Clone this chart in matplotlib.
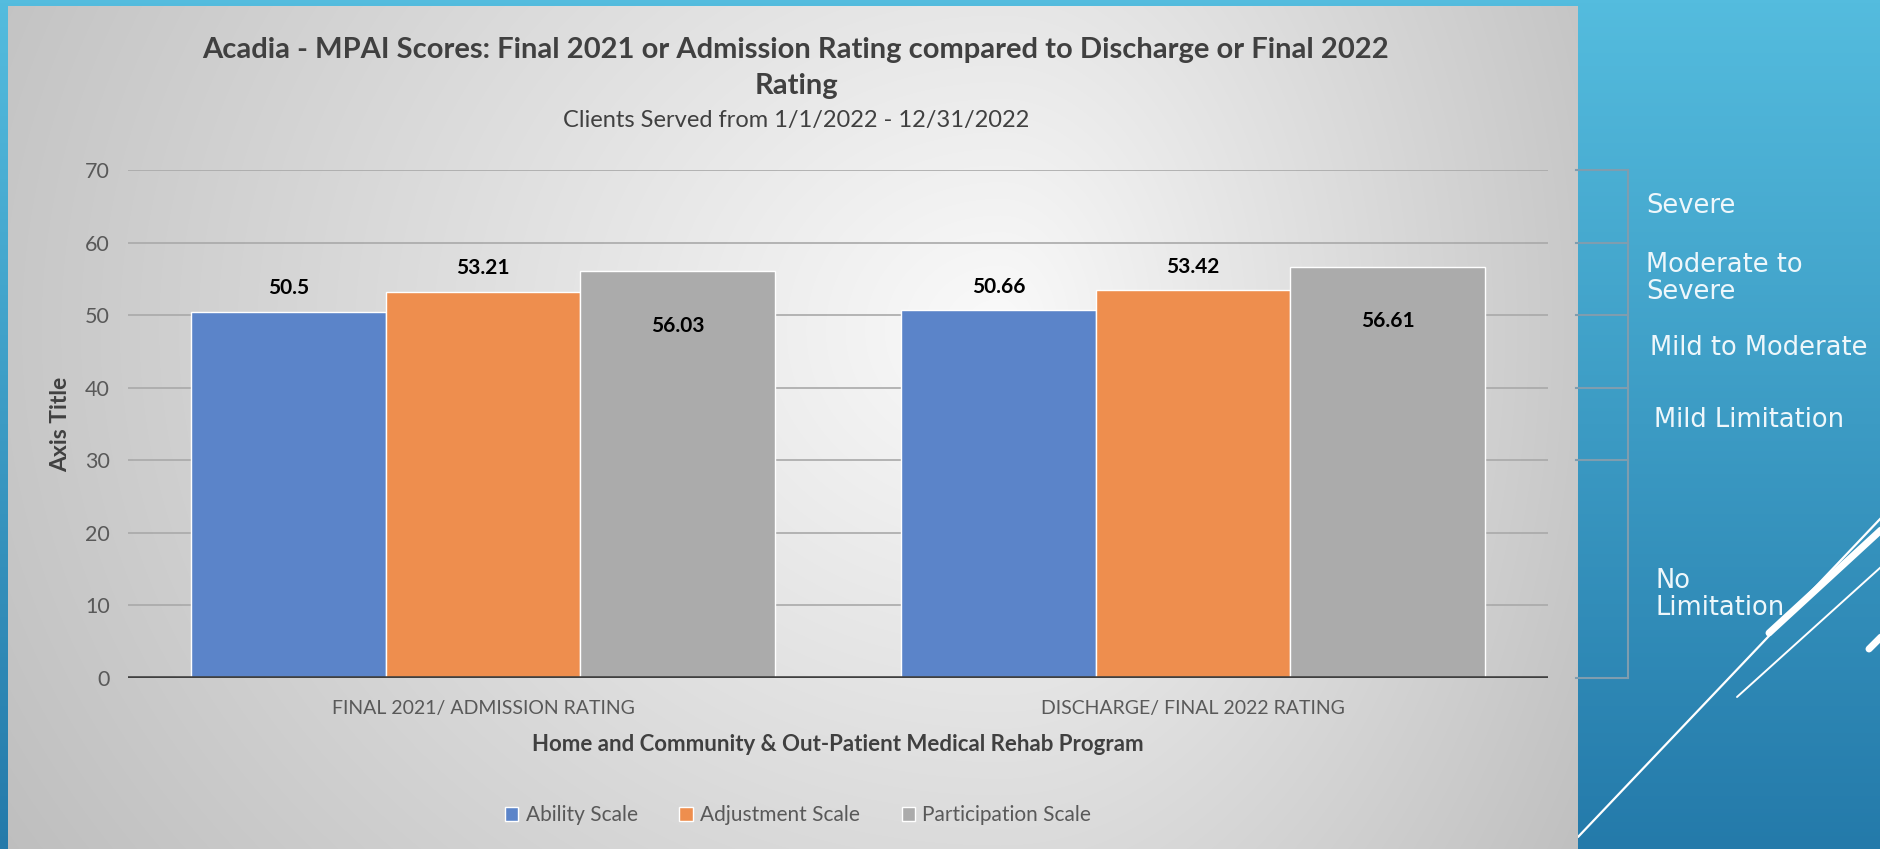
import matplotlib.pyplot as plt
import numpy as np
from matplotlib.transforms import blended_transform_factory

# data
categories = ['FINAL 2021/ ADMISSION RATING', 'DISCHARGE/ FINAL 2022 RATING']
series = ['Ability Scale', 'Adjustment Scale', 'Participation Scale']
ability = [50.5, 50.66]
adjustment = [53.21, 53.42]
participation = [56.03, 56.61]
yticks = [0, 10, 20, 30, 40, 50, 60, 70]

# severity bands shown to the right of the chart
band_edges = [70, 60, 50, 40, 30, 0]
band_names = ['Severe', 'Moderate to\nSevere', 'Mild to Moderate', 'Mild Limitation', 'No\nLimitation']
band_text_y = [65, 55, 45.5, 35.5, 11.5]

colors = ['#5b84c9', '#ee8e4e', '#ababab']
W, H = 1881, 849
fam = ['Lato', 'DejaVu Sans']

fig = plt.figure(figsize=(W / 100, H / 100), dpi=100)

# slide background (blue gradient)
bg = fig.add_axes([0, 0, 1, 1], zorder=0)
t = np.linspace(0, 1, 256)[:, None, None]
top = np.array([84, 188, 222]) / 255
bot = np.array([36, 122, 170]) / 255
grad = top + (bot - top) * t
bg.imshow(grad, aspect='auto', extent=[0, W, H, 0])
bg.set_xlim(0, W)
bg.set_ylim(H, 0)
bg.axis('off')
# decorative white strokes
bg.plot([1578, 1881], [837, 518], color='white', lw=1.6, solid_capstyle='round')
bg.plot([1737, 1881], [697, 567], color='white', lw=1.4, solid_capstyle='round')
bg.plot([1769, 1881], [633, 530], color='white', lw=5, solid_capstyle='round')
bg.plot([1869, 1881], [649, 637], color='white', lw=5, solid_capstyle='round')

# chart panel (grey radial gradient)
px0, px1, py0 = 8, 1578, 6
panel = fig.add_axes([px0 / W, 0, (px1 - px0) / W, (H - py0) / H], zorder=1)
xx, yy = np.meshgrid(np.arange(px0, px1), np.arange(py0, H))
cx, cy = 1000, 330
dx = np.where(xx < cx, (cx - xx) / 1000.0, (xx - cx) / 600.0)
dy = (yy - cy) / 850.0
r = np.sqrt(dx ** 2 + dy ** 2)
v = np.clip(0.98 - 0.2 * r, 0.74, 1)
panel.imshow(np.dstack([v, v, v]), aspect='auto')
panel.axis('off')

# main chart
ax = fig.add_axes([128 / W, (H - 678) / H, 1420 / W, 508 / H], zorder=2)
ax.patch.set_alpha(0)
x = np.arange(len(categories))
w = 0.274
vals = [ability, adjustment, participation]
bars = []
for i, (name, v_, c) in enumerate(zip(series, vals, colors)):
    b = ax.bar(x + (i - 1) * w, v_, w, color=c, edgecolor='white', linewidth=1, label=name, zorder=2)
    bars.append(b)

for i, b in enumerate(bars):
    off = -39 if i == 2 else 17
    for rect, val in zip(b, vals[i]):
        ax.annotate(f'{val:g}', (rect.get_x() + rect.get_width() / 2, val),
                    xytext=(0, off), textcoords='offset points', ha='center', va='center',
                    fontsize=15, fontweight='bold', color='black', family=fam, zorder=3)

ax.set_xlim(-0.5, 1.5)
ax.set_ylim(0, 70)
ax.set_yticks(yticks)
ax.set_xticks(x)
ax.set_xticklabels(categories)
ax.yaxis.grid(True, color='#a9a9a9', lw=1.2)
ax.set_axisbelow(True)
for s in ax.spines.values():
    s.set_visible(False)
ax.axhline(0, color='#404040', lw=2.6, zorder=4)
ax.tick_params(axis='both', length=0, colors='#595959')
ax.tick_params(axis='x', labelsize=14, pad=16)
ax.tick_params(axis='y', labelsize=15.5, pad=13)
for lab in ax.get_xticklabels() + ax.get_yticklabels():
    lab.set_family(fam)
ax.set_ylabel('Axis Title', fontsize=16.5, fontweight='bold', color='#404040', family=fam, labelpad=10)
ax.set_xlabel('Home and Community & Out-Patient Medical Rehab Program', fontsize=16,
              fontweight='bold', color='#404040', family=fam, labelpad=12)

# titles
fig.text(796 / W, 1 - 50 / H, 'Acadia - MPAI Scores: Final 2021 or Admission Rating compared to Discharge or Final 2022',
         ha='center', va='center', fontsize=21, fontweight='bold', color='#404040', family=fam, zorder=5)
fig.text(796 / W, 1 - 86 / H, 'Rating', ha='center', va='center', fontsize=21, fontweight='bold',
         color='#404040', family=fam, zorder=5)
fig.text(796 / W, 1 - 121 / H, 'Clients Served from 1/1/2022 - 12/31/2022', ha='center', va='center',
         fontsize=17, color='#404040', family=fam, zorder=5)

# legend
fig.legend(handles=bars, labels=series, loc='center', bbox_to_anchor=(798 / W, 1 - 815 / H), ncol=3,
           frameon=False, handlelength=0.65, handleheight=0.65, handletextpad=0.35,
           columnspacing=2.0, labelcolor='#595959', prop={'family': fam, 'size': 15})

# severity bracket on the right
tr = blended_transform_factory(ax.transAxes, ax.transData)
bx0, bx1 = (1576 - 128) / 1420, (1628 - 128) / 1420
bc = '#7f9daf'
for e in band_edges:
    ax.plot([bx0, bx1], [e, e], color=bc, lw=1.5, transform=tr, clip_on=False, zorder=1)
ax.plot([bx1, bx1], [band_edges[-1], band_edges[0]], color=bc, lw=1.5, transform=tr, clip_on=False, zorder=1)
band_x = [1646, 1646, 1650, 1654, 1656]
for name, yv, xp in zip(band_names, band_text_y, band_x):
    ax.text((xp - 128) / 1420, yv, name, transform=tr, ha='left', va='center', fontsize=18.5,
            color='#eef7fb', family='DejaVu Sans', clip_on=False, linespacing=1.05)

fig.savefig('out.png', dpi=100)
